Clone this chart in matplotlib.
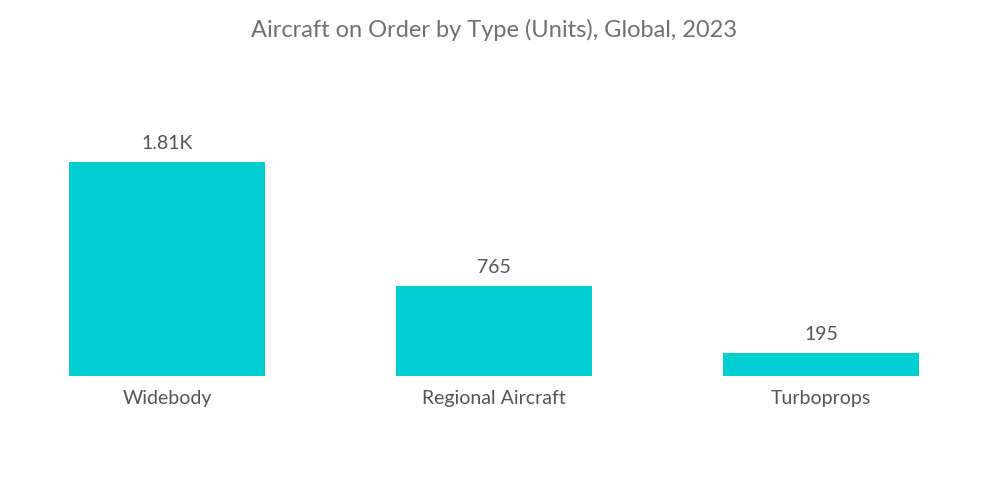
import matplotlib

matplotlib.use("Agg")
import matplotlib.pyplot as plt

# data
categories = ["Widebody", "Regional Aircraft", "Turboprops"]
units = [1810, 765, 195]
value_labels = ["1.81K", "765", "195"]

BAR_COLOR = "#00CED1"
TEXT_COLOR = "#555555"
TITLE_COLOR = "#707070"

plt.rcParams["font.family"] = ["Lato", "DejaVu Sans"]

fig = plt.figure(figsize=(10.0, 5.04), dpi=100)
ax = fig.add_axes([0.0035, 0.254, 0.981, 0.5476])

x = range(len(categories))
bars = ax.bar(x, units, width=0.6, color=BAR_COLOR)
ax.set_xlim(-0.5, len(categories) - 0.5)
ax.set_ylim(0, 2334)

for rect, lab in zip(bars, value_labels):
    ax.annotate(lab, (rect.get_x() + rect.get_width() / 2, rect.get_height()),
                xytext=(0, 7), textcoords="offset points",
                ha="center", va="bottom", fontsize=14, color=TEXT_COLOR)

ax.set_xticks(list(x))
ax.set_xticklabels(categories, fontsize=14, color=TEXT_COLOR)
ax.tick_params(axis="x", length=0, pad=10)
ax.set_yticks([])
for s in ax.spines.values():
    s.set_visible(False)

fig.text(0.494, 0.94, "Aircraft on Order by Type (Units), Global, 2023",
         ha="center", va="center", fontsize=17, color=TITLE_COLOR)

fig.savefig("out.png", dpi=100)
